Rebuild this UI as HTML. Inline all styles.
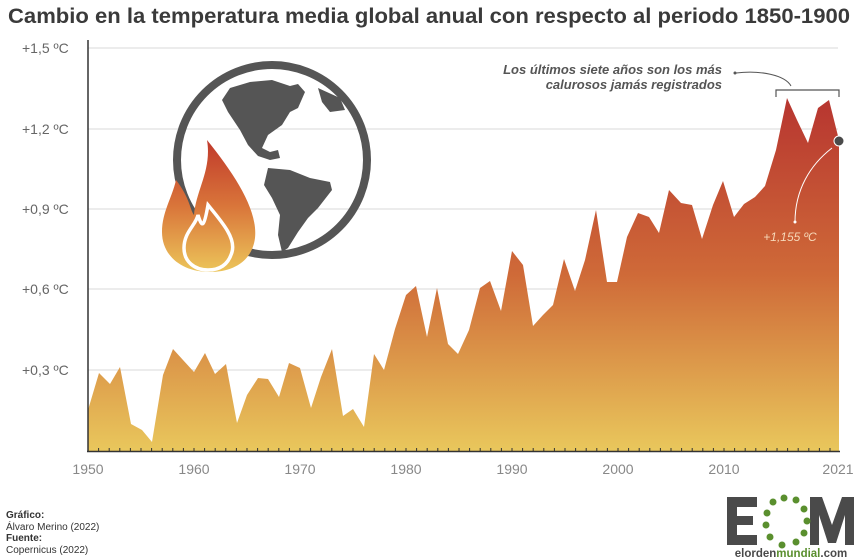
<!DOCTYPE html>
<html><head><meta charset="utf-8"><style>
body{margin:0;background:#fff;}
svg{display:block;font-family:"Liberation Sans",sans-serif;}
</style></head><body>
<svg width="868" height="559" viewBox="0 0 868 559">
<defs>
<linearGradient id="g" x1="0" y1="98" x2="0" y2="451" gradientUnits="userSpaceOnUse">
<stop offset="0" stop-color="#b73530"/>
<stop offset="0.5" stop-color="#cf6a38"/>
<stop offset="1" stop-color="#e9c75c"/>
</linearGradient>
<linearGradient id="f" x1="0" y1="140" x2="0" y2="272" gradientUnits="userSpaceOnUse">
<stop offset="0" stop-color="#c0392b"/>
<stop offset="0.5" stop-color="#d9753a"/>
<stop offset="1" stop-color="#ecc55a"/>
</linearGradient>
</defs>
<text x="8" y="23" font-size="21" font-weight="bold" fill="#3a3a3a" textLength="842" lengthAdjust="spacingAndGlyphs">Cambio en la temperatura media global anual con respecto al periodo 1850-1900</text>
<g stroke="#d8d8d8" stroke-width="1">
<line x1="88" y1="48" x2="838" y2="48"/>
<line x1="88" y1="129" x2="838" y2="129"/>
<line x1="88" y1="209" x2="838" y2="209"/>
<line x1="88" y1="289" x2="838" y2="289"/>
<line x1="88" y1="370" x2="838" y2="370"/>
</g>
<g font-size="14" fill="#666">
<text x="22" y="53">+1,5 ºC</text>
<text x="22" y="134">+1,2 ºC</text>
<text x="22" y="214">+0,9 ºC</text>
<text x="22" y="294">+0,6 ºC</text>
<text x="22" y="375">+0,3 ºC</text>
</g>
<!-- globe -->
<circle cx="272" cy="160" r="95" fill="none" stroke="#555" stroke-width="8"/>
<path d="M230 88 L250 82 L272 80 L290 86 L298 84 L305 92 L298 108 L290 112 L282 125 L268 135 L262 148 L270 152 L278 150 L280 158 L270 160 L258 156 L248 145 L240 130 L228 112 L222 100 Z" fill="#555"/>
<path d="M268 168 L290 170 L310 178 L330 182 L332 190 L318 208 L308 218 L298 232 L288 248 L282 252 L278 235 L280 215 L272 198 L264 185 Z" fill="#555"/>
<path d="M318 88 L340 98 L345 110 L330 112 L322 102 Z" fill="#555"/>
<!-- flame -->
<path d="M207 140 C235 175 258 210 255 238 C252 262 232 272 210 272 C182 272 162 256 162 232 C162 212 172 198 176 180 C190 198 190 210 194 215 C196 190 212 170 207 140 Z" fill="url(#f)"/>
<path d="M208 205 C222 222 236 238 232 252 C228 266 218 270 208 270 C195 270 184 262 184 248 C184 232 196 225 198 215 C202 228 204 228 208 205 Z" fill="none" stroke="#fff" stroke-width="3.5"/>
<!-- area -->
<path fill="url(#g)" d="M88,451 L88,410 L99,373 L110,384 L120,367 L131,424 L142,430 L152,442 L163,375 L173,349 L183,360 L194,372 L205,353 L215,374 L226,364 L237,423 L247,395 L258,378 L268,379 L279,397 L289,363 L300,368 L311,408 L321,377 L332,349 L343,416 L353,409 L364,427 L374,354 L384,370 L395,329 L406,295 L416,286 L427,337 L437,288 L448,344 L458,354 L469,330 L480,288 L490,281 L501,311 L512,251 L523,265 L533,326 L543,315 L553,305 L564,259 L575,291 L585,260 L596,210 L607,282 L617,282 L627,237 L638,213 L649,217 L659,233 L669,190 L681,203 L692,205 L702,239 L713,205 L723,181 L734,217 L744,204 L755,197 L765,186 L776,150 L787,98 L797,120 L808,143 L818,108 L829,100 L839,140 L839,451 Z"/>
<line x1="88" y1="40" x2="88" y2="452" stroke="#333" stroke-width="1.5"/>
<line x1="87" y1="451.5" x2="840" y2="451.5" stroke="#333" stroke-width="1.5"/>
<g stroke="#333" stroke-width="1">
<path d="M98.6 452v-4M109.2 452v-4M119.8 452v-4M130.4 452v-4M141 452v-4M151.6 452v-4M162.2 452v-4M172.8 452v-4M183.4 452v-4M194 452v-4M204.6 452v-4M215.2 452v-4M225.8 452v-4M236.4 452v-4M247 452v-4M257.6 452v-4M268.2 452v-4M278.8 452v-4M289.4 452v-4M300 452v-4M310.6 452v-4M321.2 452v-4M331.8 452v-4M342.4 452v-4M353 452v-4M363.6 452v-4M374.2 452v-4M384.8 452v-4M395.4 452v-4M406 452v-4M416.6 452v-4M427.2 452v-4M437.8 452v-4M448.4 452v-4M459 452v-4M469.6 452v-4M480.2 452v-4M490.8 452v-4M501.4 452v-4M512 452v-4M522.6 452v-4M533.2 452v-4M543.8 452v-4M554.4 452v-4M565 452v-4M575.6 452v-4M586.2 452v-4M596.8 452v-4M607.4 452v-4M618 452v-4M628.6 452v-4M639.2 452v-4M649.8 452v-4M660.4 452v-4M671 452v-4M681.6 452v-4M692.2 452v-4M702.8 452v-4M713.4 452v-4M724 452v-4M734.6 452v-4M745.2 452v-4M755.8 452v-4M766.4 452v-4M777 452v-4M787.6 452v-4M798.2 452v-4M808.8 452v-4M819.4 452v-4M830 452v-4"/>
</g>
<g font-size="14" fill="#888" text-anchor="middle">
<text x="88" y="474">1950</text><text x="194" y="474">1960</text><text x="300" y="474">1970</text>
<text x="406" y="474">1980</text><text x="512" y="474">1990</text><text x="618" y="474">2000</text>
<text x="724" y="474">2010</text><text x="838" y="474">2021</text>
</g>
<!-- annotations -->
<g font-size="13" font-weight="bold" font-style="italic" fill="#555" text-anchor="end">
<text x="722" y="74">Los últimos siete años son los más</text>
<text x="722" y="89">calurosos jamás registrados</text>
</g>
<path d="M736 73 C760 70 785 75 791 86" fill="none" stroke="#555" stroke-width="1"/>
<circle cx="735" cy="73" r="1.5" fill="#555"/>
<path d="M776 97 V90 H839 V97" fill="none" stroke="#555" stroke-width="1.2"/>
<path d="M832 148 C810 165 795 190 795 222" fill="none" stroke="#fff" stroke-width="1"/>
<circle cx="795" cy="222" r="1.5" fill="#fff"/>
<text x="790" y="241" font-size="12" font-style="italic" fill="#f6d8b8" text-anchor="middle">+1,155 ºC</text>
<circle cx="839" cy="141" r="5" fill="#4a4a4a" stroke="#fff" stroke-width="1"/>
<!-- footer -->
<g font-size="10" fill="#333">
<text x="6" y="518" font-weight="bold">Gráfico:</text>
<text x="6" y="530">Álvaro Merino (2022)</text>
<text x="6" y="541" font-weight="bold">Fuente:</text>
<text x="6" y="553">Copernicus (2022)</text>
</g>
<!-- logo -->
<g fill="#4a4a4a">
<rect x="727" y="497" width="10" height="48"/>
<rect x="727" y="497" width="30" height="10"/>
<rect x="727" y="516" width="26" height="9"/>
<rect x="727" y="535" width="30" height="10"/>
<path d="M810 497h12l10 28l10-28h12v48h-9v-30l-9 28h-8l-9-28v30h-9z"/>
</g>
<g fill="#5a8f2e">
<circle cx="784" cy="498" r="3.5"/><circle cx="796" cy="500" r="3.5"/><circle cx="773" cy="502" r="3.5"/>
<circle cx="804" cy="509" r="3.5"/><circle cx="767" cy="513" r="3.5"/><circle cx="807" cy="521" r="3.5"/>
<circle cx="766" cy="525" r="3.5"/><circle cx="804" cy="533" r="3.5"/><circle cx="770" cy="537" r="3.5"/>
<circle cx="796" cy="542" r="3.5"/><circle cx="782" cy="545" r="3.5"/>
</g>
<text x="791" y="557" font-size="11.5" font-weight="bold" fill="#4a4a4a" text-anchor="middle">elorden<tspan fill="#5a8f2e">mundial</tspan>.com</text>
</svg>
</body></html>
